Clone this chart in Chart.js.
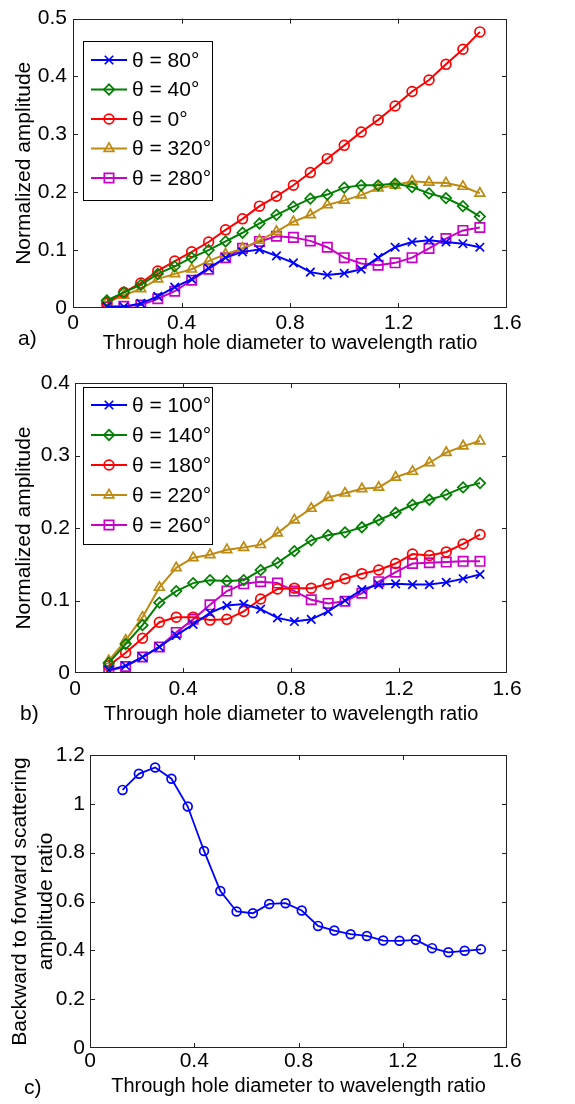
<!DOCTYPE html>
<html>
<head>
<meta charset="utf-8">
<script src="https://cdn.jsdelivr.net/npm/chart.js@4.4.0/dist/chart.umd.min.js"></script>
<style>
  body { margin: 0; background: #fff; width: 575px; height: 1104px; position: relative; overflow: hidden; font-family: "Liberation Sans", Arial, sans-serif; }
  canvas { position: absolute; left: 0; }
  .tag { position: absolute; font-size: 21px; line-height: 24px; color: #000; }
</style>
</head>
<body>
<canvas id="chartA" width="575" height="355" style="top:0"></canvas>
<canvas id="chartB" width="575" height="361" style="top:365px"></canvas>
<canvas id="chartC" width="575" height="363" style="top:735px"></canvas>
<div class="tag" style="left:18px;top:326px">a)</div>
<div class="tag" style="left:20px;top:701px">b)</div>
<div class="tag" style="left:24px;top:1075px">c)</div>

<script>
// diametre du trou / longueur d'onde
const ratio = [0.125, 0.1875, 0.25, 0.3125, 0.375, 0.4375, 0.5, 0.5625, 0.625, 0.6875, 0.75, 0.8125,
               0.875, 0.9375, 1.0, 1.0625, 1.125, 1.1875, 1.25, 1.3125, 1.375, 1.4375, 1.5];

// panneau a)
const theta80  = [0.002, 0.002, 0.008, 0.020, 0.036, 0.050, 0.069, 0.087, 0.097, 0.101, 0.090, 0.078, 0.062, 0.057, 0.060, 0.067, 0.087, 0.105, 0.114, 0.117, 0.114, 0.111, 0.105];
const theta40  = [0.013, 0.027, 0.040, 0.059, 0.072, 0.087, 0.100, 0.115, 0.130, 0.146, 0.161, 0.175, 0.189, 0.196, 0.208, 0.212, 0.212, 0.215, 0.209, 0.198, 0.190, 0.176, 0.158];
const theta0   = [0.009, 0.027, 0.043, 0.064, 0.081, 0.097, 0.114, 0.135, 0.154, 0.176, 0.193, 0.212, 0.234, 0.258, 0.281, 0.304, 0.325, 0.349, 0.374, 0.394, 0.421, 0.447, 0.477];
const theta320 = [0.010, 0.022, 0.033, 0.050, 0.059, 0.067, 0.081, 0.093, 0.103, 0.117, 0.132, 0.149, 0.161, 0.178, 0.186, 0.195, 0.207, 0.212, 0.219, 0.217, 0.216, 0.210, 0.198];
const theta280 = [0.002, 0.003, 0.005, 0.016, 0.029, 0.048, 0.067, 0.087, 0.103, 0.115, 0.124, 0.122, 0.116, 0.105, 0.087, 0.077, 0.074, 0.078, 0.087, 0.103, 0.120, 0.134, 0.139];

// panneau b)
const theta100 = [0.004, 0.010, 0.022, 0.036, 0.052, 0.067, 0.083, 0.093, 0.095, 0.088, 0.076, 0.071, 0.074, 0.085, 0.100, 0.115, 0.122, 0.123, 0.122, 0.122, 0.125, 0.130, 0.136];
const theta140 = [0.014, 0.040, 0.066, 0.097, 0.113, 0.124, 0.128, 0.127, 0.128, 0.142, 0.152, 0.168, 0.183, 0.190, 0.194, 0.201, 0.211, 0.221, 0.232, 0.239, 0.246, 0.256, 0.262];
const theta180 = [0.010, 0.028, 0.048, 0.070, 0.077, 0.077, 0.073, 0.074, 0.085, 0.102, 0.116, 0.117, 0.117, 0.123, 0.130, 0.137, 0.142, 0.151, 0.164, 0.162, 0.167, 0.178, 0.191];
const theta220 = [0.017, 0.045, 0.077, 0.118, 0.145, 0.159, 0.163, 0.170, 0.173, 0.177, 0.193, 0.211, 0.227, 0.242, 0.248, 0.254, 0.256, 0.270, 0.278, 0.290, 0.304, 0.313, 0.320];
const theta260 = [0.003, 0.009, 0.022, 0.036, 0.056, 0.074, 0.094, 0.113, 0.123, 0.126, 0.124, 0.113, 0.101, 0.096, 0.099, 0.110, 0.126, 0.139, 0.151, 0.152, 0.153, 0.154, 0.154];

// panneau c)
const backToForward = [1.057, 1.123, 1.149, 1.103, 0.989, 0.807, 0.643, 0.559, 0.552, 0.590, 0.593, 0.563, 0.500, 0.481, 0.466, 0.459, 0.440, 0.439, 0.443, 0.409, 0.392, 0.398, 0.404];

const xTicks = [0, 0.4, 0.8, 1.2, 1.6];
const FONT = '"Liberation Sans", Arial, sans-serif';
Chart.defaults.font.family = FONT;
Chart.defaults.color = '#000';

const BLUE = '#0000ff', GREEN = '#008000', RED = '#ff0000', GOLD = '#bf8a10', MAGENTA = '#c800c8';
// taille visuelle proche pour chaque marqueur
const markerRadius = { crossRot: 6, rectRot: 5.2, circle: 4.9, triangle: 5.6, rect: 6.6 };

function serie(label, values, color, marker) {
    return {
        label: label,
        data: ratio.map((x, i) => ({ x: x, y: values[i] })),
        borderColor: color,
        backgroundColor: color,
        borderWidth: 2,
        pointStyle: marker,
        pointRadius: markerRadius[marker],
        pointBorderWidth: 1.7,
        pointBackgroundColor: 'rgba(0,0,0,0)',
        pointBorderColor: color,
        tension: 0
    };
}

// cadre type matlab + graduations interieures + legende dans le cadre
const matlabBox = {
    id: 'matlabBox',
    afterDatasetsDraw(chart, args, opts) {
        const { ctx, chartArea: a, scales } = chart;
        ctx.save();
        ctx.strokeStyle = '#222';
        ctx.lineWidth = 1;
        ctx.strokeRect(Math.round(a.left) + 0.5, Math.round(a.top) + 0.5, Math.round(a.width) - 1, Math.round(a.height) - 1);
        ctx.beginPath();
        scales.x.ticks.forEach(t => {
            const px = Math.round(scales.x.getPixelForValue(t.value)) + 0.5;
            if (px <= a.left + 2 || px >= a.right - 2) return;
            ctx.moveTo(px, a.bottom); ctx.lineTo(px, a.bottom - 5);
            ctx.moveTo(px, a.top); ctx.lineTo(px, a.top + 5);
        });
        scales.y.ticks.forEach(t => {
            const py = Math.round(scales.y.getPixelForValue(t.value)) + 0.5;
            if (py <= a.top + 2 || py >= a.bottom - 2) return;
            ctx.moveTo(a.left, py); ctx.lineTo(a.left + 5, py);
            ctx.moveTo(a.right, py); ctx.lineTo(a.right - 5, py);
        });
        ctx.stroke();

        const L = opts.legend;
        if (L) {
            const bx = Math.round(a.left + L.dx), by = Math.round(a.top + L.dy);
            ctx.fillStyle = '#fff';
            ctx.fillRect(bx, by, L.w, L.h);
            ctx.strokeStyle = '#000';
            ctx.lineWidth = 1;
            ctx.strokeRect(bx + 0.5, by + 0.5, L.w, L.h);
            chart.data.datasets.forEach((ds, i) => {
                const y = by + L.first + i * L.gap;
                ctx.strokeStyle = ds.borderColor;
                ctx.lineWidth = ds.borderWidth;
                ctx.beginPath();
                ctx.moveTo(bx + 8, y); ctx.lineTo(bx + 44, y);
                ctx.stroke();
                ctx.fillStyle = 'rgba(0,0,0,0)';
                ctx.lineWidth = ds.pointBorderWidth;
                Chart.helpers.drawPoint(ctx, { pointStyle: ds.pointStyle, radius: ds.pointRadius, borderWidth: ds.pointBorderWidth, rotation: 0 }, bx + 26, y);
                ctx.fillStyle = '#000';
                ctx.font = '21px ' + FONT;
                ctx.textBaseline = 'middle';
                ctx.fillText(ds.label, bx + 49, y + 1);
            });
        }
        ctx.restore();
    }
};

function tickText(v) {
    return String(Math.round(v * 10) / 10);
}

function makeChart(id, datasets, p) {
    return new Chart(document.getElementById(id), {
        type: 'line',
        data: { datasets: datasets },
        options: {
            responsive: false,
            animation: false,
            layout: { padding: { top: p.top, right: 68, left: 0, bottom: 0 } },
            plugins: {
                legend: { display: false },
                tooltip: { enabled: false },
                matlabBox: { legend: p.legend }
            },
            scales: {
                x: {
                    type: 'linear', min: 0, max: 1.6,
                    afterBuildTicks: s => { s.ticks = xTicks.map(v => ({ value: v })); },
                    grid: { display: false, drawTicks: false },
                    border: { display: false },
                    ticks: { font: { size: 21 }, padding: p.xPad, maxRotation: 0, callback: tickText },
                    title: { display: true, text: 'Through hole diameter to wavelength ratio', font: { size: 20 }, padding: { top: 0, bottom: 0 } },
                    afterFit: s => { s.height = p.xH; }
                },
                y: {
                    type: 'linear', min: 0, max: p.yMax,
                    grid: { display: false, drawTicks: false },
                    border: { display: false },
                    ticks: { stepSize: p.yStep, font: { size: 21 }, padding: p.yPad, callback: tickText },
                    title: { display: true, text: p.yTitle, font: { size: 21, lineHeight: p.yLh }, padding: { top: p.yTitlePad, bottom: 0 } },
                    afterFit: s => { s.width = p.yW; }
                }
            }
        },
        plugins: [matlabBox]
    });
}

makeChart('chartA', [
    serie('θ = 80°', theta80, BLUE, 'crossRot'),
    serie('θ = 40°', theta40, GREEN, 'rectRot'),
    serie('θ = 0°', theta0, RED, 'circle'),
    serie('θ = 320°', theta320, GOLD, 'triangle'),
    serie('θ = 280°', theta280, MAGENTA, 'rect')
], { top: 14, xH: 47, xPad: 3, yMax: 0.5, yStep: 0.1, yW: 73, yPad: 6,
     yTitle: 'Normalized amplitude', yLh: 1.2, yTitlePad: 12,
     legend: { dx: 10, dy: 22, w: 129, h: 159, first: 19, gap: 29.5 } });

makeChart('chartB', [
    serie('θ = 100°', theta100, BLUE, 'crossRot'),
    serie('θ = 140°', theta140, GREEN, 'rectRot'),
    serie('θ = 180°', theta180, RED, 'circle'),
    serie('θ = 220°', theta220, GOLD, 'triangle'),
    serie('θ = 260°', theta260, MAGENTA, 'rect')
], { top: 18, xH: 53, xPad: 4, yMax: 0.4, yStep: 0.1, yW: 75, yPad: 5,
     yTitle: 'Normalized amplitude', yLh: 1.2, yTitlePad: 12,
     legend: { dx: 8, dy: 4, w: 129, h: 157, first: 18, gap: 30 } });

const cSerie = serie('ratio', backToForward, BLUE, 'circle');
cSerie.borderWidth = 1.8;
cSerie.pointRadius = 4.4;
makeChart('chartC', [cSerie],
  { top: 20, xH: 50, xPad: 1, yMax: 1.2, yStep: 0.2, yW: 90, yPad: 5,
    yTitle: ['Backward to forward scattering', 'amplitude ratio'], yLh: 1.2, yTitlePad: 8,
    legend: null });
</script>
</body>
</html>
